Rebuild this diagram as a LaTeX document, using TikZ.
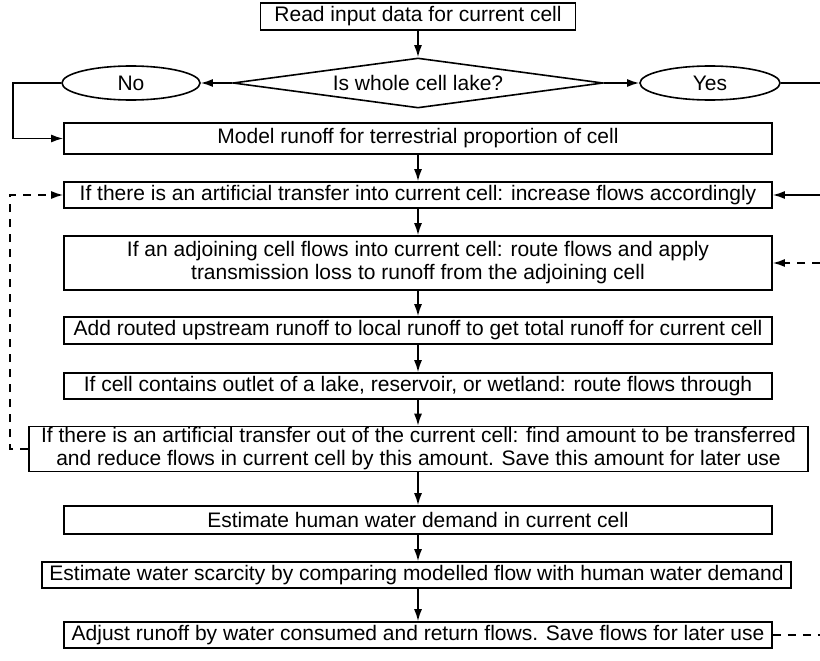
\documentclass[tikz,border=0pt]{standalone}
\usepackage{fontspec}
\setmainfont{Liberation Sans}
\usetikzlibrary{arrows.meta,calc,shapes}
\tikzset{>={Latex[length=12pt,width=8pt]}}
\tikzset{
  box/.style={draw, line width=1.6pt, minimum width=708pt, inner sep=2pt, align=center},
  choice/.style={draw, ellipse, line width=1.6pt, minimum height=34pt, inner sep=0pt},
  link/.style={line width=1.6pt},
  dlink/.style={line width=1.6pt, dash pattern=on 8pt off 7pt}
}

\begin{document}
\begin{tikzpicture}[x=1pt, y=-1pt, font=\fontsize{21}{23}\selectfont]
    \useasboundingbox (0,0) rectangle (820,661);
    % top: read data and test for lake
    \node[box, minimum width=315pt, minimum height=27pt] (read) at (418,16.5) {Read input data for current cell};
    \node[draw, diamond, line width=1.6pt, aspect=7.4, inner sep=0pt, minimum width=370pt, minimum height=50pt] (lake) at (418,83) {Is whole cell lake?};
    \node[choice, minimum width=138pt] (no) at (131,83) {No};
    \node[choice, minimum width=140pt] (yes) at (710,83) {Yes};

    % main column of steps
    \node[box, minimum height=31pt] (model) at (418,138.5) {Model runoff for terrestrial proportion of cell};
    \node[box, minimum height=26pt] (tin) at (418,195) {If there is an artificial transfer into current cell: increase flows accordingly};
    \node[box, minimum height=54pt] (adjoin) at (418,263) {If an adjoining cell flows into current cell: route flows and apply\\transmission loss to runoff from the adjoining cell};
    \node[box, minimum height=27pt] (add) at (418,330.5) {Add routed upstream runoff to local runoff to get total runoff for current cell};
    \node[box, minimum height=26pt] (outlet) at (418,386) {If cell contains outlet of a lake, reservoir, or wetland: route flows through};
    \node[box, minimum width=779pt, minimum height=45pt, inner sep=1pt] (tout) at (418.5,449) {If there is an artificial transfer out of the current cell: find amount to be transferred\\and reduce flows in current cell by this amount. Save this amount for later use};
    \node[box, minimum height=28pt] (human) at (418,520) {Estimate human water demand in current cell};
    \node[box, minimum width=749pt, minimum height=26pt, inner sep=1pt] (scarce) at (416.5,575) {Estimate water scarcity by comparing modelled flow with human water demand};
    \node[box, minimum height=26pt] (adjust) at (418,635) {Adjust runoff by water consumed and return flows. Save flows for later use};

    % free ends at the right edge
    \coordinate (yesend) at (820,83);
    \coordinate (tinend) at (820,195);
    \coordinate (adjend) at (820,263);
    \coordinate (adjustend) at (820,635);

    \foreach \a/\b in {read/lake, model/tin, tin/adjoin, adjoin/add, add/outlet, outlet/tout, tout/human, human/scarce, scarce/adjust}
      \draw[link, ->] (read.south |- \a.south) -- (read.south |- \b.north);

    \draw[link, ->] (lake.west) -- (no.east);
    \draw[link, ->] (lake.east) -- (yes.west);
    \draw[link, ->] (no.west) -- ++(-48,0) |- (model.west);
    \draw[link] (yes.east) -- (yesend);
    \draw[link, ->] (tinend) -- (tin.east);

    \draw[dlink, ->] (adjend) -- (adjoin.east);
    \draw[dlink] (adjust.east) -- (adjustend);
    \draw[dlink, ->] (tout.west) -- ++(-18,0) |- (tin.west);
  \end{tikzpicture}
\end{document}
